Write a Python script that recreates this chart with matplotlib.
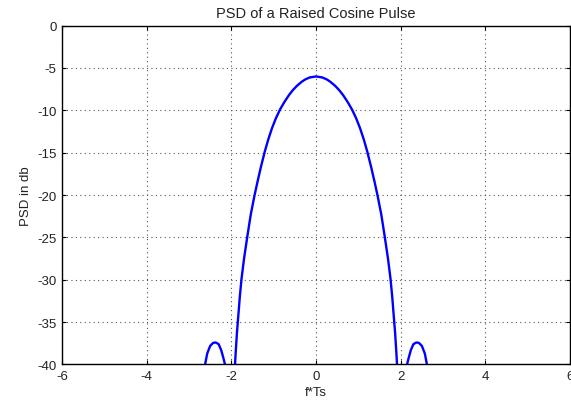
import numpy as np
import matplotlib
matplotlib.use("Agg")
import matplotlib.pyplot as plt

plt.rcParams['font.family'] = ['Liberation Sans', 'DejaVu Sans']
plt.rcParams['axes.unicode_minus'] = False

# PSD of raised cosine pulse (dB vs f*Ts)
f_ts = [-2.68, -2.62, -2.57, -2.50, -2.43, -2.37, -2.30, -2.24, -2.19, -2.15, -2.12,
        -1.93, -1.90, -1.87, -1.83, -1.80, -1.76, -1.70, -1.62, -1.54, -1.45, -1.38,
        -1.30, -1.21, -1.13, -1.04, -0.95, -0.85, -0.75, -0.64, -0.55, -0.45, -0.33,
        -0.25, -0.15,
        0.0,
        0.15, 0.25, 0.33, 0.45, 0.55, 0.64, 0.75, 0.85, 0.95, 1.04, 1.13, 1.21, 1.30,
        1.38, 1.45, 1.54, 1.62, 1.70, 1.76, 1.80, 1.83, 1.87, 1.90, 1.93,
        2.12, 2.15, 2.19, 2.24, 2.30, 2.37, 2.43, 2.50, 2.57, 2.62, 2.68]
psd_db = [-43.0, -40.0, -38.7, -37.8, -37.45, -37.4, -37.6, -38.3, -39.2, -40.0, -42.0,
          -41.5, -38.8, -36.4, -33.9, -32.0, -29.9, -27.5, -24.8, -22.25, -19.98, -18.38,
          -16.65, -14.86, -13.47, -12.11, -10.96, -9.9, -9.04, -8.21, -7.63, -7.1, -6.6,
          -6.34, -6.12,
          -6.0,
          -6.12, -6.34, -6.6, -7.1, -7.63, -8.21, -9.04, -9.9, -10.96, -12.11, -13.47, -14.86, -16.65,
          -18.38, -19.98, -22.25, -24.8, -27.5, -29.9, -32.0, -33.9, -36.4, -38.8, -41.5,
          -42.0, -40.0, -39.2, -38.3, -37.6, -37.4, -37.45, -37.8, -38.7, -40.0, -43.0]

x_ticks = [-6, -4, -2, 0, 2, 4, 6]
y_ticks = [-40, -35, -30, -25, -20, -15, -10, -5, 0]

fig = plt.figure(figsize=(5.71, 4.02), dpi=100)
ax = fig.add_axes([0.1086, 0.0908, 0.8897, 0.843])

ax.plot(f_ts, psd_db, color='#0000ff', linewidth=1.7)

ax.set_xlim(-6, 6)
ax.set_ylim(-40, 0)
ax.set_xticks(x_ticks)
ax.set_yticks(y_ticks)
ax.grid(True, linestyle=(0, (1, 3)), color='#555555', linewidth=0.8)
ax.tick_params(direction='in', top=True, right=True, length=3, labelsize=9.5,
               labelcolor='#222222', pad=4)
for s in ax.spines.values():
    s.set_linewidth(1.0)

ax.set_title('PSD of a Raised Cosine Pulse', fontsize=10.5, color='#222222', pad=6)
ax.set_xlabel('f*Ts', fontsize=9.5, color='#222222', labelpad=3)
ax.set_ylabel('PSD in db', fontsize=9.5, color='#222222', labelpad=4)

plt.savefig('out.png', dpi=100)
